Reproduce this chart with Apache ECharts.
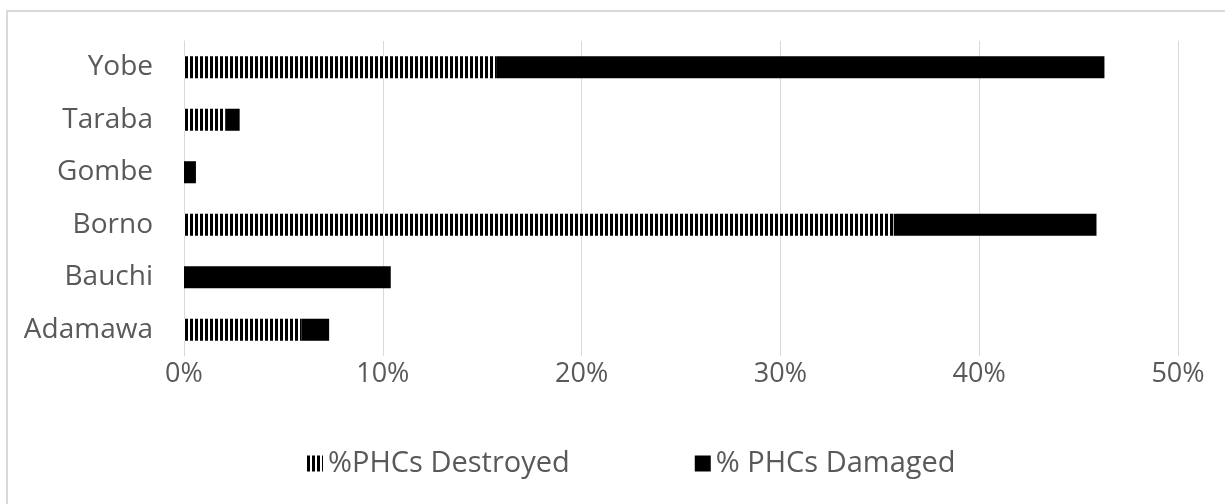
<!DOCTYPE html>
<html>
<head>
<meta charset="utf-8">
<script src="https://cdn.jsdelivr.net/npm/echarts@6/dist/echarts.min.js"></script>
<style>
  html, body { margin: 0; padding: 0; background: #fff; overflow: hidden; }
  #frame { position: absolute; left: 6px; top: 10px; width: 1400px; height: 700px;
           border: 2px solid #d9d9d9; box-sizing: border-box; }
  #chart { position: absolute; left: 0; top: 0; width: 1225px; height: 504px; }
</style>
</head>
<body>
<div id="frame"></div>
<div id="chart"></div>
<script>
// States of north-east Nigeria, bottom to top on the category axis
const states = ['Adamawa', 'Bauchi', 'Borno', 'Gombe', 'Taraba', 'Yobe'];
// Share of primary health centres destroyed / damaged (%)
const destroyed = [5.9, 0, 35.7, 0, 2.1, 15.7];
const damaged = [1.4, 10.4, 10.2, 0.6, 0.7, 30.6];
const seriesNames = ['%PHCs Destroyed', '% PHCs Damaged'];

const font = '"Open Sans", "Noto Sans", sans-serif';
const textColor = '#595959';

const chart = echarts.init(document.getElementById('chart'), null, { renderer: 'canvas' });
chart.setOption({
  backgroundColor: 'transparent',
  animation: false,
  grid: { left: 184, right: 47, top: 41, bottom: 148 },
  legend: {
    top: 444,
    left: 302,
    icon: 'rect',
    itemWidth: 16,
    itemHeight: 16,
    itemGap: 125,
    textStyle: { fontFamily: font, fontSize: 29, color: textColor },
    data: seriesNames
  },
  xAxis: {
    type: 'value',
    min: 0,
    max: 0.5,
    interval: 0.1,
    axisLine: { show: false },
    axisTick: { show: false },
    splitLine: { lineStyle: { color: '#d9d9d9', width: 1 } },
    axisLabel: {
      margin: 5,
      fontFamily: font, fontSize: 27, color: textColor,
      formatter: v => Math.round(v * 100) + '%'
    }
  },
  yAxis: {
    type: 'category',
    data: states,
    axisLine: { lineStyle: { color: '#d9d9d9', width: 1 } },
    axisTick: { show: false },
    axisLabel: { margin: 31, fontFamily: font, fontSize: 28, color: textColor }
  },
  series: [
    {
      name: seriesNames[0],
      type: 'bar',
      stack: 'phc',
      barWidth: '42%',
      data: destroyed.map(v => v / 100),
      itemStyle: {
        color: '#ffffff',
        decal: {
          symbol: 'rect',
          symbolSize: 1,
          color: '#000000',
          dashArrayX: [3, 2],
          dashArrayY: [20, 0],
          rotation: 0
        }
      }
    },
    {
      name: seriesNames[1],
      type: 'bar',
      stack: 'phc',
      data: damaged.map(v => v / 100),
      itemStyle: { color: '#000000' }
    }
  ]
});
</script>
</body>
</html>
